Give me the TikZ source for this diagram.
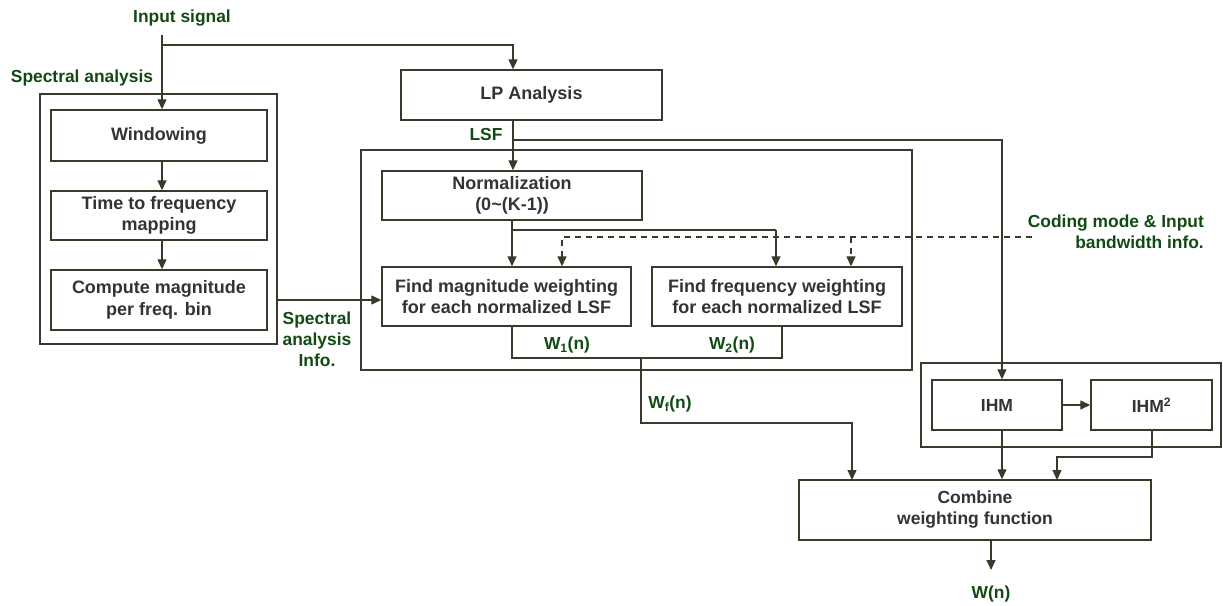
\documentclass[tikz,border=0pt]{standalone}
\usepackage{fontspec}
\setmainfont{Liberation Sans}
\usetikzlibrary{arrows.meta,calc}
\definecolor{lineC}{HTML}{3A3A2A}
\definecolor{boxT}{HTML}{333333}
\definecolor{lblG}{HTML}{124A14}
\tikzset{
  box/.style={draw=lineC, line width=1.4pt, rectangle, inner sep=0pt, align=center, text=boxT,
    font=\fontsize{18}{21.5}\selectfont\bfseries},
  frame/.style={draw=lineC, line width=1.8pt, rectangle, inner sep=0pt},
  lbl/.style={text=lblG, inner sep=0pt, align=center, font=\fontsize{17.4}{21}\selectfont\bfseries},
  conn/.style={draw=lineC, line width=1.3pt, -{Triangle[length=10pt,width=9pt]}},
  plain/.style={draw=lineC, line width=1.3pt},
  dconn/.style={conn, dash pattern=on 6pt off 5pt},
  dplain/.style={plain, dash pattern=on 6pt off 5pt},
}
\begin{document}
\begin{tikzpicture}[x=1pt,y=-1pt]
\useasboundingbox (0,0) rectangle (1223,605);
% frames
\node[frame, minimum width=237, minimum height=250] (spec) at (158.5,219) {};
\node[frame, minimum width=551, minimum height=220] (main) at (636.5,260) {};
\node[frame, minimum width=300, minimum height=84] (ihmo) at (1071,405) {};
% boxes
\node[box, minimum width=216, minimum height=51] (win) at (159,135.5) {Windowing};
\node[box, minimum width=216, minimum height=49] (t2f) at (159,215.5) {Time to frequency\\mapping};
\node[box, minimum width=216, minimum height=60] (comp) at (159,300) {Compute magnitude\\per freq. bin};
\node[box, minimum width=261, minimum height=50] (lp) at (531.5,95) {LP Analysis};
\node[box, minimum width=260, minimum height=49] (norm) at (512,195.5) {Normalization\\(0\textasciitilde(K-1))};
\node[box, minimum width=249, minimum height=59] (fmag) at (506.5,296.5) {Find magnitude weighting\\for each normalized LSF};
\node[box, minimum width=250, minimum height=59] (ffreq) at (777,296.5) {Find frequency weighting\\for each normalized LSF};
\node[box, minimum width=130, minimum height=50, font=\fontsize{17.5}{21}\selectfont\bfseries] (ihm) at (997,405) {IHM};
\node[box, minimum width=121, minimum height=50, font=\fontsize{17.5}{21}\selectfont\bfseries] (ihm2) at (1151.5,405) {IHM\textsuperscript{2}};
\node[box, minimum width=352, minimum height=60, font=\fontsize{17.5}{21}\selectfont\bfseries] (comb) at (975,510) {Combine\\weighting function};
% labels
\node[lbl] (insig) at (182,18) {Input signal};
\node[lbl] (spl) at (82,78) {Spectral analysis};
\node[lbl] (sinfo) at (317,339) {Spectral\\analysis\\Info.};
\node[lbl] (lsf) at (486,135) {LSF};
\node[lbl] (w1) at (567,345) {W\textsubscript{1}(n)};
\node[lbl] (w2) at (732,345) {W\textsubscript{2}(n)};
\node[lbl] (wf) at (670,404) {W\textsubscript{f}(n)};
\node[lbl, align=right, anchor=east] (cmode) at (1204,232) {Coding mode \& Input\\bandwidth info.};
\node[lbl] (wn) at (991,594) {W(n)};
% coordinates
\coordinate (in) at (162,35);
\coordinate (j1) at (162,45);
\coordinate (lsfx) at (513,140);
\coordinate (ihmx) at (1002,140);
\coordinate (nb) at (512,230);
\coordinate (fbx) at (776,230);
\coordinate (cm) at (1032,237);
\coordinate (d1) at (562,237);
\coordinate (d2) at (851,237);
\coordinate (w1b) at (512,358);
\coordinate (w2b) at (782,358);
\coordinate (wj) at (641,358);
\coordinate (wk) at (641,423);
\coordinate (cx) at (852,480);
\coordinate (i2x) at (1152,457);
\coordinate (c2) at (1057,480);
\coordinate (wout) at (991,570);
% connectors
\draw[conn] (in) -- (in |- win.north);
\draw[conn] (j1) -| (lp.north -| lsfx);
\draw[conn] (win.south -| in) -- (t2f.north -| in);
\draw[conn] (t2f.south -| in) -- (comp.north -| in);
\draw[conn] (comp -| spec.east) -- (comp -| fmag.west);
\draw[conn] (lp.south -| lsfx) -- (norm.north -| lsfx);
\draw[conn] (lsfx) -| (ihm.north -| ihmx);
\draw[conn] (norm.south) -- (norm.south |- fmag.north);
\draw[plain] (nb) -- (fbx);
\draw[conn] (fbx) -- (ffreq.north -| fbx);
\draw[dconn] (cm) -| (fmag.north -| d1);
\draw[dconn] (d2) -- (ffreq.north -| d2);
\draw[plain] (fmag.south -| w1b) -- (w1b) -- (wj);
\draw[plain] (ffreq.south -| w2b) -- (w2b) -- (wj);
\draw[conn] (wj) -- (wk) -| (cx);
\draw[conn] (ihm.east) -- (ihm2.west);
\draw[conn] (ihm.south -| ihmx) -- (comb.north -| ihmx);
\draw[conn] (ihm2.south -| i2x) -- (i2x) -| (c2);
\draw[conn] (comb.south -| wout) -- (wout);
\end{tikzpicture}
\end{document}
